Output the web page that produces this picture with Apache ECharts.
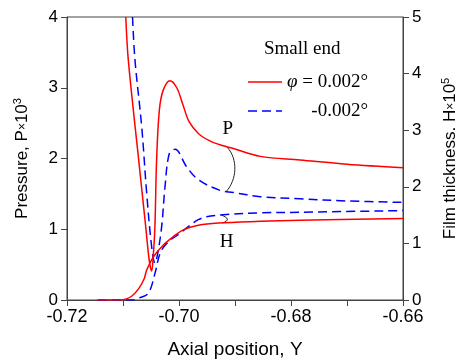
<!DOCTYPE html>
<html>
<head>
<meta charset="utf-8">
<script src="https://cdn.jsdelivr.net/npm/echarts@6/dist/echarts.min.js"></script>
<style>
  html, body { margin: 0; padding: 0; background: #fff; }
  #chart { width: 459px; height: 363px; }
</style>
</head>
<body>
<div id="chart"></div>
<script>
// pressure curves (left axis, P x 10^3)
const pressPos = [
  [-0.7095, 4.0], [-0.70905, 3.39], [-0.7072, 1.98], [-0.70595, 1.04], [-0.7053, 0.55],
  [-0.70488, 0.41], [-0.7046, 0.62], [-0.7043, 1.04], [-0.7040, 1.98], [-0.7035, 2.69],
  [-0.7028, 2.97], [-0.7016, 3.10], [-0.7004, 3.0], [-0.6993, 2.76], [-0.6982, 2.52],
  [-0.6965, 2.35], [-0.6945, 2.25], [-0.6921, 2.18], [-0.6903, 2.14], [-0.6855, 2.03],
  [-0.6784, 1.98], [-0.6700, 1.92], [-0.6600, 1.87]
];
const pressNeg = [
  [-0.7083, 4.0], [-0.70786, 3.39], [-0.70666, 2.45], [-0.70577, 1.51], [-0.70488, 0.75],
  [-0.70429, 0.52], [-0.7038, 0.66], [-0.70309, 1.04], [-0.7025, 1.60], [-0.70173, 2.07],
  [-0.70071, 2.13], [-0.69862, 1.88], [-0.69655, 1.70], [-0.6927, 1.55], [-0.6903, 1.52],
  [-0.6855, 1.46], [-0.6784, 1.43], [-0.6700, 1.40], [-0.6600, 1.38]
];
// film thickness curves (right axis, H x 10^5)
const filmPos = [
  [-0.7145, 0], [-0.7105, 0], [-0.7094, 0.02], [-0.7084, 0.07], [-0.7072, 0.2],
  [-0.7062, 0.38], [-0.70577, 0.53], [-0.70458, 0.76], [-0.7028, 0.97], [-0.70101, 1.12],
  [-0.69923, 1.24], [-0.69655, 1.32], [-0.6930, 1.36], [-0.6855, 1.39], [-0.6784, 1.41],
  [-0.6600, 1.44]
];
const filmNeg = [
  [-0.7145, 0], [-0.7080, 0], [-0.70726, 0.03], [-0.70548, 0.12], [-0.70429, 0.47],
  [-0.70339, 0.82], [-0.7022, 1.0], [-0.69982, 1.18], [-0.69804, 1.32], [-0.69655, 1.42],
  [-0.6951, 1.47], [-0.6915, 1.51], [-0.6855, 1.54], [-0.6784, 1.55], [-0.6600, 1.58]
];
const legendTexts = ['0.002°', '-0.002°'];

const serif = 'Liberation Serif';
const sans = 'Liberation Sans';
const RED = '#ff0000';
const BLUE = '#0000ff';
const DASH = [9, 5];

const chart = echarts.init(document.getElementById('chart'));

function lineSeries(data, color, dashed, yIndex) {
  return {
    type: 'line',
    yAxisIndex: yIndex,
    data: data,
    symbol: 'none',
    smooth: 0.35,
    clip: true,
    lineStyle: { color: color, width: 1.5, type: dashed ? DASH : 'solid' },
    z: dashed ? 3 : 4
  };
}

const axisLine = { show: true, lineStyle: { color: '#444', width: 1 } };
const axisTick = { show: true, length: 6, lineStyle: { color: '#444' } };
const nameRich = {
  s: { fontFamily: sans, fontSize: 12, color: '#000' },
  sup: { fontFamily: sans, fontSize: 11, color: '#000', verticalAlign: 'bottom', padding: [0, 0, 10, 0] }
};

chart.setOption({
  animation: false,
  grid: {
    left: 67, right: 56, top: 17, bottom: 63,
    outerBoundsMode: 'none',
    show: true, borderColor: '#444', borderWidth: 1
  },
  title: {
    text: 'Small end',
    left: 259, top: 35,
    textStyle: { fontFamily: serif, fontSize: 19, fontWeight: 'normal', color: '#000' }
  },
  xAxis: {
    type: 'value',
    min: -0.72, max: -0.66, interval: 0.01,
    name: 'Axial position, Y',
    nameLocation: 'middle', nameGap: 40,
    nameTextStyle: { fontFamily: sans, fontSize: 19, color: '#000' },
    axisLine: axisLine,
    axisTick: axisTick,
    axisLabel: {
      fontFamily: sans, fontSize: 18, color: '#000', margin: 8,
      formatter: function (v) { return Math.round(v * 100) % 2 === 0 ? v.toFixed(2) : ''; }
    },
    splitLine: { show: false }
  },
  yAxis: [
    {
      type: 'value', min: 0, max: 4, interval: 1,
      name: 'Pressure, P{s|×}10{sup|3}',
      nameLocation: 'middle', nameGap: 34, nameRotate: 90,
      nameTextStyle: { fontFamily: sans, fontSize: 17, color: '#000', rich: nameRich },
      axisLine: axisLine,
      axisTick: axisTick,
      axisLabel: { fontFamily: sans, fontSize: 17, color: '#000', margin: 9 },
      splitLine: { show: false }
    },
    {
      type: 'value', min: 0, max: 5, interval: 1,
      position: 'right',
      name: 'Film thickness. H{s|×}10{sup|5}',
      nameLocation: 'middle', nameGap: 37, nameRotate: 90,
      nameTextStyle: { fontFamily: sans, fontSize: 17, color: '#000', rich: nameRich },
      axisLine: axisLine,
      axisTick: axisTick,
      axisLabel: { fontFamily: sans, fontSize: 17, color: '#000', margin: 9 },
      splitLine: { show: false }
    }
  ],
  series: [
    lineSeries(pressPos, RED, false, 0),
    lineSeries(pressNeg, BLUE, true, 0),
    lineSeries(filmPos, RED, false, 1),
    lineSeries(filmNeg, BLUE, true, 1)
  ]
});

// legend and brackets tying each pair of curves to its label
function px(x, y, yi) {
  return chart.convertToPixel({ xAxisIndex: 0, yAxisIndex: yi }, [x, y]);
}
const pTop = px(-0.6914, 2.16, 0), pBot = px(-0.6916, 1.53, 0);
const hTop = px(-0.6924, 1.50, 1), hBot = px(-0.6922, 1.36, 1);
const pLab = px(-0.6913, 2.42, 0), hLab = px(-0.6915, 1.03, 1);
const bracket = { stroke: '#222', lineWidth: 1, fill: 'none' };
const serifFont = '19px "Liberation Serif"';
chart.setOption({
  graphic: [
    { type: 'line', shape: { x1: 248, y1: 82, x2: 282, y2: 82 }, style: { stroke: RED, lineWidth: 1.5 } },
    { type: 'line', shape: { x1: 248, y1: 111, x2: 282, y2: 111 }, style: { stroke: BLUE, lineWidth: 1.5, lineDash: DASH } },
    {
      type: 'text', x: 368, y: 82,
      style: {
        text: '{i|φ} = ' + legendTexts[0], font: serifFont, fill: '#000', textAlign: 'right', textVerticalAlign: 'middle',
        rich: { i: { font: 'italic 19px "Liberation Serif"', fill: '#000' } }
      }
    },
    { type: 'text', x: 368, y: 111, style: { text: legendTexts[1], font: serifFont, fill: '#000', textAlign: 'right', textVerticalAlign: 'middle' } },
    { type: 'bezierCurve', shape: { x1: pTop[0], y1: pTop[1], cpx1: pTop[0] + 11, cpy1: pTop[1] + 12, cpx2: pBot[0] + 11, cpy2: pBot[1] - 12, x2: pBot[0], y2: pBot[1] }, style: bracket },
    { type: 'bezierCurve', shape: { x1: hTop[0], y1: hTop[1], cpx1: hTop[0] + 7, cpy1: hTop[1] + 3, cpx2: hBot[0] + 7, cpy2: hBot[1] - 3, x2: hBot[0], y2: hBot[1] }, style: bracket },
    { type: 'text', x: pLab[0], y: pLab[1], style: { text: 'P', font: serifFont, fill: '#000', textAlign: 'center', textVerticalAlign: 'middle' } },
    { type: 'text', x: hLab[0], y: hLab[1], style: { text: 'H', font: serifFont, fill: '#000', textAlign: 'center', textVerticalAlign: 'middle' } }
  ]
});
</script>
</body>
</html>
